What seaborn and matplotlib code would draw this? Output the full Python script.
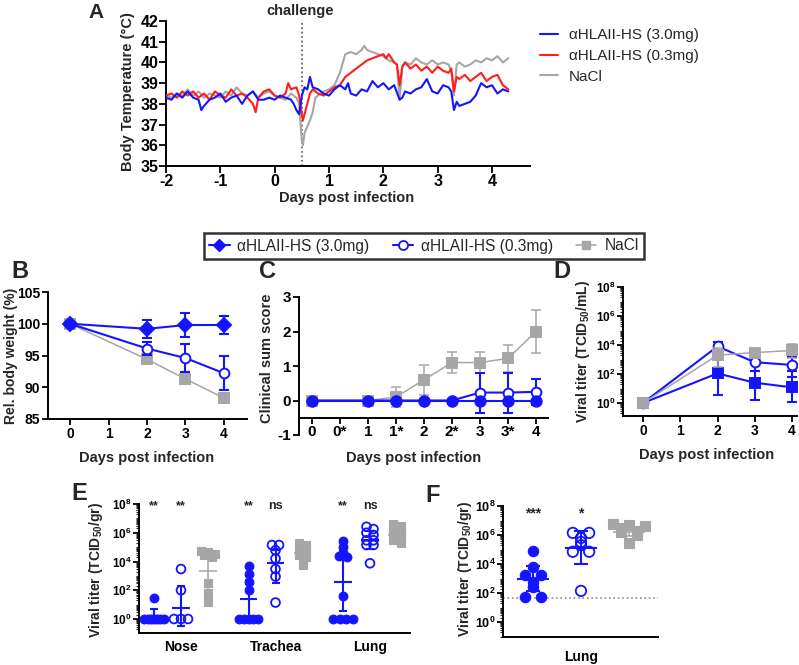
import numpy as np
import pandas as pd
import matplotlib
matplotlib.use("Agg")
import matplotlib.pyplot as plt
import seaborn as sns
from matplotlib.lines import Line2D
from matplotlib.ticker import FixedLocator, FixedFormatter, LogLocator, NullFormatter

# ---------------------------------------------------------------- data
LBL_HI = "\u03b1HLAII-HS (3.0mg)"
LBL_LO = "\u03b1HLAII-HS (0.3mg)"
LBL_NACL = "NaCl"

# Panel A: body temperature
days_hi = [-2.0,-1.9,-1.8,-1.7,-1.6,-1.5,-1.4,-1.35,-1.3,-1.2,-1.1,-1.0,-0.9,-0.8,-0.7,-0.6,-0.5,-0.4,-0.3,-0.2,-0.1,0.0,0.1,0.2,0.3,
           0.35,0.4,0.45,0.5,0.55,0.6,0.65,0.7,0.8,0.9,1.0,1.1,1.2,1.3,1.35,1.4,1.5,1.6,1.7,1.8,1.9,2.0,2.1,2.2,2.3,2.35,
           2.4,2.5,2.6,2.7,2.8,2.9,3.0,3.1,3.2,3.25,3.3,3.35,3.4,3.5,3.6,3.7,3.8,3.9,4.0,4.1,4.2,4.3]
temp_hi = [38.3,38.2,38.5,38.3,38.6,38.3,38.2,37.7,37.9,38.2,38.3,38.5,38.1,38.3,38.4,38.0,38.4,38.6,38.2,38.2,38.3,38.2,38.4,38.3,38.2,
           38.0,37.7,37.5,38.4,38.8,38.7,39.3,38.8,38.7,38.5,38.4,38.7,38.9,38.7,39.0,38.5,38.4,38.7,38.6,39.1,38.8,39.0,38.7,38.9,38.2,38.3,
           38.6,38.5,38.7,38.8,39.2,38.6,38.5,38.9,38.8,38.6,37.7,38.1,37.9,38.0,38.1,38.4,39.0,38.8,38.9,38.5,38.7,38.6]
days_lo = [-2.0,-1.9,-1.8,-1.7,-1.6,-1.5,-1.4,-1.3,-1.2,-1.1,-1.0,-0.9,-0.8,-0.7,-0.6,-0.5,-0.4,-0.35,-0.3,-0.2,-0.1,0.0,0.1,0.2,0.25,
           0.3,0.4,0.45,0.5,0.52,0.55,0.6,0.65,0.7,0.8,0.9,1.0,1.1,1.2,1.3,1.4,1.5,1.6,1.7,1.8,1.9,2.0,2.05,2.1,2.2,2.25,2.3,2.35,2.4,
           2.5,2.6,2.7,2.8,2.9,3.0,3.1,3.2,3.25,3.3,3.35,3.4,3.5,3.6,3.7,3.8,3.9,4.0,4.1,4.2,4.3]
temp_lo = [38.4,38.5,38.3,38.6,38.4,38.6,38.3,38.5,38.2,38.6,38.4,38.3,38.7,38.4,38.5,38.3,38.0,37.6,38.3,38.6,38.7,38.4,38.3,38.5,39.0,
           38.7,38.8,38.4,37.5,37.2,37.5,38.0,38.5,38.7,38.5,38.4,38.6,38.8,38.9,39.3,39.5,39.7,39.9,40.1,40.2,40.3,40.4,40.2,40.4,40.0,39.9,38.9,39.8,40.0,
           39.7,39.9,39.6,39.8,39.5,39.8,39.6,39.5,39.7,38.6,39.3,39.2,39.4,39.1,39.3,39.5,39.1,39.3,39.4,38.9,38.7]
days_nacl = [-2.0,-1.9,-1.8,-1.7,-1.6,-1.5,-1.4,-1.3,-1.2,-1.1,-1.0,-0.9,-0.8,-0.7,-0.6,-0.5,-0.4,-0.3,-0.2,-0.1,0.0,0.1,0.2,0.3,0.4,
             0.45,0.5,0.52,0.55,0.6,0.65,0.7,0.75,0.8,0.9,1.0,1.1,1.2,1.3,1.4,1.5,1.6,1.65,1.7,1.8,1.9,2.0,2.1,2.2,2.25,2.3,2.35,
             2.4,2.5,2.6,2.7,2.8,2.9,3.0,3.1,3.2,3.25,3.3,3.35,3.4,3.5,3.6,3.7,3.8,3.9,4.0,4.1,4.2,4.3]
temp_nacl = [38.4,38.3,38.5,38.4,38.7,38.4,38.6,38.3,38.5,38.4,38.3,38.6,38.4,38.8,38.5,38.4,38.6,38.3,38.5,38.6,38.4,38.3,38.2,38.5,38.3,
             38.0,36.2,36.0,36.6,36.9,37.2,37.6,38.3,38.4,38.6,38.7,38.9,39.5,40.4,40.5,40.4,40.6,40.8,40.6,40.5,40.4,40.3,40.1,40.0,39.9,38.2,39.8,
             40.0,39.9,40.2,40.0,39.9,40.1,39.9,40.0,39.9,39.6,38.4,39.9,40.0,39.8,39.9,40.1,40.0,40.2,40.1,40.3,40.0,40.2]
challenge_day = 0.5

# Panel B: relative body weight (mean, SD)
b_days = [0, 2, 3, 4]
b_hi = [100, 99.2, 99.8, 99.8];   b_hi_sd = [0, 1.4, 1.95, 1.35]
b_lo = [100, 96.1, 94.6, 92.2];   b_lo_sd = [0, 0.95, 2.2, 2.7]
b_nacl = [100, 94.4, 91.3, 88.3]; b_nacl_sd = [0, 0.7, 0.7, 0.8]

# Panel C: clinical sum score (mean, SD)
c_ticks = ["0", "0*", "1", "1*", "2", "2*", "3", "3*", "4"]
c_days = ["0", "1", "1*", "2", "2*", "3", "3*", "4"]
c_hi = [0, 0, 0, 0, 0, 0, 0, 0];              c_hi_sd = [0, 0, 0, 0, 0, 0, 0, 0]
c_lo = [0, 0, 0, 0, 0, 0.23, 0.23, 0.25];     c_lo_sd = [0, 0, 0, 0, 0, 0.58, 0.58, 0.38]
c_nacl = [0, 0, 0.1, 0.6, 1.1, 1.1, 1.22, 2.0]; c_nacl_sd = [0, 0, 0.28, 0.43, 0.3, 0.3, 0.4, 0.62]

# Panel D: viral titer, swabs (geo mean, lower, upper)
d_days = [0, 2, 3, 4]
d_hi = [1, 110, 25, 12];        d_hi_low = [1, 3.5, 1.6, 1.2];     d_hi_up = [1, 3000, 600, 150]
d_lo = [1, 8000, 650, 420];     d_lo_low = [1, 3000, 150, 60];     d_lo_up = [1, 15000, 2500, 1500]
d_nacl = [1, 2000, 3000, 4200]; d_nacl_low = [1, 300, 1500, 1300]; d_nacl_up = [1, 6000, 5000, 12000]

# Panel E: tissue titers, day 4
e_organs = ["Nose", "Trachea", "Lung"]
e_nose_hi = [1, 1, 1, 1, 1, 1, 1, 30]
e_nose_lo = [1, 1, 1, 100, 3000]
e_nose_nacl = [50000, 45000, 35000, 30000, 20000, 300, 60, 16]
e_trach_hi = [1, 1, 1, 1, 1, 100, 400, 1300, 5000]
e_trach_lo = [14, 900, 3000, 16000, 60000, 140000, 140000]
e_trach_nacl = [200000, 150000, 100000, 70000, 50000, 40000, 30000, 20000, 10000, 6000]
e_lung_hi = [250000, 100000, 40000, 25000, 20000, 40, 1, 1, 1, 1]
e_lung_lo = [2600000, 1800000, 1000000, 700000, 300000, 300000, 140000, 140000, 7500]
e_lung_nacl = [4000000, 3000000, 2000000, 1500000, 1000000, 800000, 600000, 400000, 300000, 200000]
# geometric mean and SD limits per organ, order: 3.0mg, 0.3mg, NaCl
e_mean = [[1.5, 6, 2200], [23, 8000, 40000], [400, 316000, 700000]]
e_low = [[0.5, 0.32, 80], [1, 316, 12600], [3.8, 80000, 316000]]
e_up = [[4.7, 186, 40000], [500, 63000, 126000], [50000, 1260000, 1800000]]
e_sig = [["**", "**", ""], ["**", "ns", ""], ["**", "ns", ""]]

# Panel F: lung titers, second study
f_organ = "Lung"
f_hi = [75000, 6000, 1700, 1700, 600, 260, 50, 50]
f_lo = [1400000, 1400000, 630000, 330000, 200000, 70000, 70000, 140]
f_nacl = [6000000, 5000000, 4000000, 3000000, 2000000, 1500000, 1000000, 300000]
f_mean = [870, 126000, 1600000]
f_low = [140, 10700, 800000]
f_up = [7200, 1800000, 3500000]
f_sig = ["***", "*", ""]
f_detection_limit = 48

# ---------------------------------------------------------------- style
sns.set_style("ticks")
plt.rcParams['font.family'] = ['Liberation Sans', 'DejaVu Sans']
plt.rcParams['font.weight'] = 'bold'
plt.rcParams['axes.unicode_minus'] = False
plt.rcParams['mathtext.fontset'] = 'custom'
plt.rcParams['mathtext.rm'] = 'Liberation Sans'
plt.rcParams['mathtext.bf'] = 'Liberation Sans:bold'
plt.rcParams['mathtext.default'] = 'bf'

BLUE = '#1414ff'
RED = '#ff1e1e'
GRAY = '#a6a6a6'

W, H = 799, 665
fig = plt.figure(figsize=(W / 100, H / 100), dpi=100)


def add_ax(x0, y0, x1, y1):
    return fig.add_axes([x0 / W, 1 - y1 / H, (x1 - x0) / W, (y1 - y0) / H])


def lims(a, pa, b, pb, p0, p1):
    k = (b - a) / (pb - pa)
    return a + (p0 - pa) * k, a + (p1 - pa) * k


def loglims(a, pa, b, pb, p0, p1):
    lo, hi = lims(a, pa, b, pb, p0, p1)
    return 10 ** lo, 10 ** hi


def ftext(x, y, s, **kw):
    fig.text(x / W, 1 - y / H, s, **kw)


def style(ax, size, length=4.5, pad=1.0):
    for s in ['top', 'right']:
        ax.spines[s].set_visible(False)
    for s in ['left', 'bottom']:
        ax.spines[s].set_linewidth(1.4)
        ax.spines[s].set_color('black')
    ax.tick_params(direction='out', length=length, width=1.3, labelsize=size, pad=pad, colors='black')
    ax.set_xlabel('')
    ax.set_ylabel('')


def log_axis(ax, size):
    ax.yaxis.set_major_locator(FixedLocator([1, 1e2, 1e4, 1e6, 1e8]))
    ax.yaxis.set_major_formatter(FixedFormatter([r'$\mathbf{10^{%d}}$' % p for p in (0, 2, 4, 6, 8)]))
    ax.yaxis.set_minor_locator(LogLocator(base=10, subs=np.arange(1, 10), numticks=30))
    ax.yaxis.set_minor_formatter(NullFormatter())
    ax.tick_params(axis='y', which='minor', length=2, width=0.8, direction='out')
    ax.tick_params(axis='y', which='major', labelsize=size)


def series(ax, x, y, low, up, color, marker, ms, mfc, lw, z):
    y = np.asarray(y, float)
    ax.errorbar(x, y, yerr=[y - np.asarray(low, float), np.asarray(up, float) - y], fmt='none',
                ecolor=color, elinewidth=lw, capsize=3.5, capthick=lw, zorder=z)
    sns.lineplot(x=x, y=y, ax=ax, color=color, lw=lw, marker=marker, markersize=ms,
                 markerfacecolor=mfc, markeredgecolor=color, markeredgewidth=1.4,
                 errorbar=None, zorder=z + 0.5)


def spread(vals, step, maxhalf, tol=0.2):
    logs = np.log10(np.asarray(vals, float))
    order = np.argsort(-logs, kind='stable')
    offs = np.zeros(len(logs))
    clusters = []
    for idx in order:
        if clusters and logs[clusters[-1][0]] - logs[idx] < tol:
            clusters[-1].append(idx)
        else:
            clusters.append([idx])
    for c in clusters:
        n = len(c)
        if n > 1:
            s = min(step, 2 * maxhalf / (n - 1))
            for k, idx in enumerate(c):
                offs[idx] = (k - (n - 1) / 2) * s
    return offs


def dots(ax, x, vals, kind, s, step, maxhalf, z):
    xs = x + spread(vals, step, maxhalf)
    if kind == 'filled':
        sns.scatterplot(x=xs, y=vals, ax=ax, marker='o', s=s, color=BLUE, edgecolor=BLUE, linewidth=0.8, zorder=z)
    elif kind == 'open':
        sns.scatterplot(x=xs, y=vals, ax=ax, marker='o', s=s, facecolor='none', edgecolor=BLUE, linewidth=1.3, zorder=z)
    else:
        sns.scatterplot(x=xs, y=vals, ax=ax, marker='s', s=s, color=GRAY, edgecolor=GRAY, linewidth=0.8, zorder=z)


def summary(ax, x, m, lo, up, color, half, cap, lw):
    ax.hlines(m, x - half, x + half, color=color, lw=lw, zorder=5)
    ax.errorbar([x], [m], yerr=[[m - lo], [up - m]], fmt='none', ecolor=color, elinewidth=lw,
                capsize=cap, capthick=lw, zorder=5)

# ---------------------------------------------------------------- Panel A
axA = add_ax(166, 21, 530, 166)
sns.lineplot(x=days_nacl, y=temp_nacl, ax=axA, color=GRAY, lw=1.5, zorder=2)
sns.lineplot(x=days_lo, y=temp_lo, ax=axA, color=RED, lw=1.5, zorder=3)
sns.lineplot(x=days_hi, y=temp_hi, ax=axA, color=BLUE, lw=1.5, zorder=4)
axA.axvline(challenge_day, color='#555555', ls=':', lw=1.2, zorder=1)
axA.set_xlim(lims(-2, 166, 4, 492, 166, 530))
axA.set_ylim(35, 42)
axA.set_xticks(range(-2, 5))
axA.set_yticks(range(35, 43))
style(axA, 11.5, length=5, pad=0.5)
ftext(300, 11, "challenge", ha='center', va='center', fontsize=10.5)
ftext(128, 92, "Body Temperature (\u00b0C)", rotation=90, ha='center', va='center', fontsize=10.5)
ftext(347, 198, "Days post infection", ha='center', va='center', fontsize=10.5)
ftext(96, 12, "A", ha='center', va='center', fontsize=15)
handlesA = [Line2D([0], [0], color=BLUE, lw=1.5), Line2D([0], [0], color=RED, lw=1.5),
            Line2D([0], [0], color=GRAY, lw=1.5)]
fig.legend(handlesA, [LBL_HI, LBL_LO, LBL_NACL], loc='upper left', bbox_to_anchor=(540 / W, 1 - 28 / H),
           frameon=False, prop={'weight': 'normal', 'size': 11}, handlelength=1.2, handletextpad=0.7,
           labelspacing=0.45, borderaxespad=0, borderpad=0)

# ---------------------------------------------------------------- Panel B
axB = add_ax(48, 292, 247, 419)
bh, bl, bn = (np.asarray(v, float) for v in (b_hi, b_lo, b_nacl))
series(axB, b_days, bn, bn - b_nacl_sd, bn + b_nacl_sd, GRAY, 's', 6.5, GRAY, 1.1, 2)
series(axB, b_days, bl, bl - b_lo_sd, bl + b_lo_sd, BLUE, 'o', 7, 'white', 1.5, 3)
series(axB, b_days, bh, bh - b_hi_sd, bh + b_hi_sd, BLUE, 'D', 7.5, BLUE, 1.5, 4)
axB.set_xlim(lims(0, 70, 4, 224, 48, 247))
axB.set_ylim(85, 105)
axB.set_xticks(range(0, 5))
axB.set_yticks(range(85, 106, 5))
style(axB, 10)
ftext(11, 356, "Rel. body weight (%)", rotation=90, ha='center', va='center', fontsize=10)
ftext(147, 458, "Days post infection", ha='center', va='center', fontsize=10.5)
ftext(20, 271, "B", ha='center', va='center', fontsize=17)

# ---------------------------------------------------------------- Panel C
axC = add_ax(299, 297, 548, 435)
cx = [c_ticks.index(d) for d in c_days]
ch, cl, cn = (np.asarray(v, float) for v in (c_hi, c_lo, c_nacl))
series(axC, cx, cn, cn - c_nacl_sd, cn + c_nacl_sd, GRAY, 's', 6.5, GRAY, 1.1, 2)
series(axC, cx, cl, cl - c_lo_sd, cl + c_lo_sd, BLUE, 'o', 7, 'white', 1.5, 3)
series(axC, cx, ch, ch - c_hi_sd, ch + c_hi_sd, BLUE, 'o', 7.5, BLUE, 1.5, 4)
axC.set_xlim(lims(0, 312, 8, 536, 299, 548))
axC.set_ylim(-1, 3)
axC.set_xticks(range(len(c_ticks)))
axC.set_xticklabels(c_ticks)
axC.set_yticks([-1, 0, 1, 2, 3])
style(axC, 11)
axC.spines['bottom'].set_position(('data', -0.5))
ftext(267, 358, "Clinical sum score", rotation=90, ha='center', va='center', fontsize=10.5)
ftext(414, 458, "Days post infection", ha='center', va='center', fontsize=10.5)
ftext(268, 271, "C", ha='center', va='center', fontsize=17)

# ---------------------------------------------------------------- Panel D
axD = add_ax(623, 287, 797, 416)
axD.set_yscale('log')
series(axD, d_days, d_hi, d_hi_low, d_hi_up, BLUE, 's', 7, BLUE, 1.5, 2)
series(axD, d_days, d_lo, d_lo_low, d_lo_up, BLUE, 'o', 7, 'white', 1.5, 3)
series(axD, d_days, d_nacl, d_nacl_low, d_nacl_up, GRAY, 's', 7, GRAY, 1.1, 4)
axD.set_xlim(lims(0, 643, 4, 792, 623, 797))
axD.set_ylim(loglims(8, 287, 0, 403, 416, 287))
axD.set_xticks(range(0, 5))
style(axD, 10)
log_axis(axD, 8.5)
ftext(583, 352, r"Viral titer (TCID$_{50}$/mL)", rotation=90, ha='center', va='center', fontsize=10)
ftext(707, 455, "Days post infection", ha='center', va='center', fontsize=10.5)
ftext(562, 271, "D", ha='center', va='center', fontsize=17)

handlesBD = [Line2D([0], [0], color=BLUE, lw=1.5, marker='D', ms=6.5, mfc=BLUE, mec=BLUE),
             Line2D([0], [0], color=BLUE, lw=1.5, marker='o', ms=6.5, mfc='white', mec=BLUE, mew=1.3),
             Line2D([0], [0], color=GRAY, lw=1.1, marker='s', ms=6, mfc=GRAY, mec=GRAY)]
legBD = fig.legend(handlesBD, [LBL_HI, LBL_LO, LBL_NACL], ncol=3, loc='center',
                   bbox_to_anchor=(424 / W, 1 - 246 / H), frameon=True, fancybox=False,
                   edgecolor='black', prop={'weight': 'normal', 'size': 11.2}, handlelength=1.3,
                   handletextpad=0.5, columnspacing=1.5, borderpad=0.35)
legBD.get_frame().set_linewidth(1.8)

# ---------------------------------------------------------------- Panel E
axE = add_ax(139, 504, 410, 633)
axE.set_yscale('log')
e_data = [[e_nose_hi, e_nose_lo, e_nose_nacl],
          [e_trach_hi, e_trach_lo, e_trach_nacl],
          [e_lung_hi, e_lung_lo, e_lung_nacl]]
kinds = ['filled', 'open', 'nacl']
for i, organ in enumerate(e_organs):
    for j, kind in enumerate(kinds):
        x = i * 3.5 + j
        col = GRAY if kind == 'nacl' else BLUE
        summary(axE, x, e_mean[i][j], e_low[i][j], e_up[i][j], col, 0.32, 3.2, 1.5 if col == BLUE else 1.1)
        dots(axE, x, e_data[i][j], kind, 40 if kind != 'nacl' else 38, 0.26, 0.36, 4)
        if e_sig[i][j]:
            axE.text(x, 10 ** 7.85, e_sig[i][j], ha='center', va='center', fontsize=9)
axE.set_xlim(lims(0, 154, 9, 397, 139, 410))
axE.set_ylim(loglims(8, 504, 0, 619, 633, 504))
axE.set_xticks([i * 3.5 + 1 for i in range(len(e_organs))])
axE.set_xticklabels(e_organs)
style(axE, 10)
axE.tick_params(axis='x', length=0, pad=5)
log_axis(axE, 8.5)
ftext(96, 570, r"Viral titer (TCID$_{50}$/gr)", rotation=90, ha='center', va='center', fontsize=10)
ftext(79, 494, "E", ha='center', va='center', fontsize=17)

# ---------------------------------------------------------------- Panel F
axF = add_ax(503, 506, 658, 637)
axF.set_yscale('log')
axF.axhline(f_detection_limit, color='#8c8c8c', ls=':', lw=1.2, zorder=1)
f_data = [f_hi, f_lo, f_nacl]
for j, kind in enumerate(kinds):
    col = GRAY if kind == 'nacl' else BLUE
    summary(axF, j, f_mean[j], f_low[j], f_up[j], col, 0.33, 5, 1.5 if col == BLUE else 1.1)
    dots(axF, j, f_data[j], kind, 56, 0.34, 0.38, 4)
    if f_sig[j]:
        axF.text(j, 10 ** 7.5, f_sig[j], ha='center', va='center', fontsize=10)
axF.set_xlim(lims(0, 533, 2, 629, 503, 658))
axF.set_ylim(loglims(8, 506, 0, 622, 637, 506))
axF.set_xticks([1])
axF.set_xticklabels([f_organ])
style(axF, 10)
axF.tick_params(axis='x', length=0, pad=9)
log_axis(axF, 9)
ftext(465, 569, r"Viral titer (TCID$_{50}$/gr)", rotation=90, ha='center', va='center', fontsize=10)
ftext(433, 495, "F", ha='center', va='center', fontsize=17)

fig.savefig("out.png", dpi=100)
